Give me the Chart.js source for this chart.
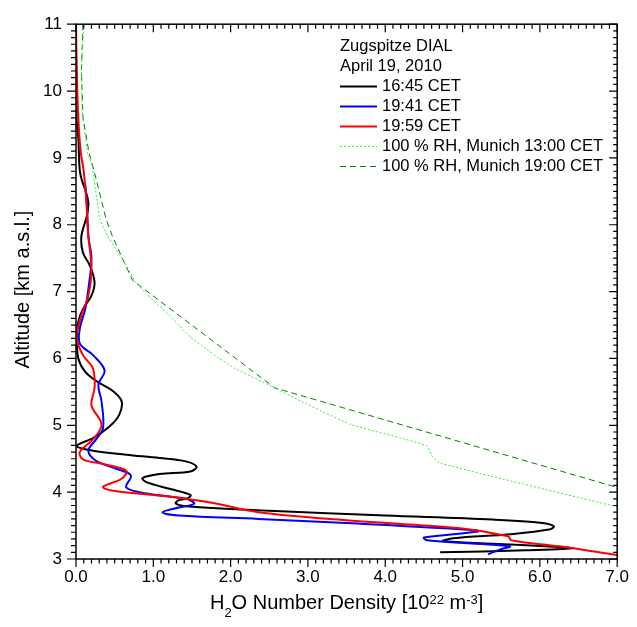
<!DOCTYPE html>
<html>
<head>
<meta charset="utf-8">
<script src="https://cdn.jsdelivr.net/npm/chart.js@4.4.1/dist/chart.umd.min.js"></script>
<style>
  html, body { margin: 0; padding: 0; background: #fff; }
  #wrap { width: 637px; height: 627px; position: relative; }
</style>
</head>
<body>
<div id="wrap"><canvas id="profileChart"></canvas></div>
<script>
const FONT = "'Liberation Sans', Arial, Helvetica, sans-serif";

// DIAL profiles: H2O number density [1e22 m^-3] against altitude [km a.s.l.]
const dens1645 = [0.00, 0.00, 0.01, 0.01, 0.03, 0.04, 0.05, 0.08, 0.12, 0.16, 0.14, 0.07, 0.09, 0.18, 0.24, 0.20, 0.09, 0.03, 0.01, 0.03, 0.12, 0.28, 0.48, 0.59, 0.56, 0.44, 0.22, 0.01, 0.22, 0.65, 1.08, 1.42, 1.56, 1.48, 1.08, 0.86, 0.91, 1.21, 1.48, 1.45, 1.33, 1.29, 1.42, 2.50, 4.00, 5.39, 6.03, 6.18, 6.12, 5.61, 4.88, 4.75, 5.39, 6.25, 6.42, 5.82, 4.71];
const alt1645  = [11.0, 10.5, 10.0, 9.55, 9.30, 9.00, 8.80, 8.65, 8.52, 8.33, 8.13, 7.83, 7.58, 7.39, 7.14, 6.94, 6.74, 6.55, 6.30, 6.00, 5.80, 5.65, 5.51, 5.36, 5.16, 4.99, 4.81, 4.69, 4.62, 4.56, 4.51, 4.46, 4.38, 4.31, 4.27, 4.21, 4.15, 4.05, 3.96, 3.91, 3.88, 3.83, 3.79, 3.72, 3.65, 3.59, 3.54, 3.49, 3.44, 3.37, 3.31, 3.27, 3.23, 3.18, 3.16, 3.13, 3.10];

const dens1941 = [0.12, 0.14, 0.16, 0.20, 0.16, 0.12, 0.05, 0.05, 0.22, 0.37, 0.29, 0.33, 0.35, 0.26, 0.16, 0.26, 0.52, 0.71, 0.65, 0.91, 1.42, 1.53, 1.33, 1.12, 1.33, 2.36, 3.64, 5.18, 5.20, 4.50, 4.54, 5.61, 5.48, 5.33];
const alt1941  = [8.60, 8.33, 7.83, 7.49, 7.04, 6.74, 6.45, 6.22, 6.05, 5.82, 5.61, 5.36, 4.96, 4.79, 4.62, 4.47, 4.35, 4.25, 4.07, 3.98, 3.90, 3.83, 3.77, 3.70, 3.65, 3.60, 3.53, 3.43, 3.41, 3.32, 3.28, 3.19, 3.14, 3.07];

const dens1959 = [0.00, 0.01, 0.03, 0.06, 0.10, 0.13, 0.16, 0.20, 0.16, 0.07, 0.01, 0.09, 0.22, 0.24, 0.20, 0.33, 0.22, 0.05, 0.09, 0.35, 0.65, 0.59, 0.35, 0.48, 1.08, 1.72, 2.36, 3.50, 4.97, 5.59, 5.63, 6.25, 7.00];
const alt1959  = [11.0, 10.3, 9.60, 9.10, 8.80, 8.40, 7.83, 7.34, 6.94, 6.65, 6.30, 6.05, 5.85, 5.56, 5.30, 5.01, 4.79, 4.60, 4.49, 4.42, 4.32, 4.20, 4.08, 4.02, 3.95, 3.85, 3.70, 3.58, 3.46, 3.34, 3.28, 3.19, 3.06];

// Saturation (100 % RH) profiles from the Munich radiosondes
const densRh13 = [0.10, 0.07, 0.08, 0.15, 0.21, 0.31, 0.41, 0.65, 0.76, 0.91, 1.12, 1.33, 1.48, 1.68, 1.85, 2.06, 2.32, 2.57, 2.91, 3.56, 4.20, 4.54, 4.60, 4.72, 7.00];
const altRh13  = [11.0, 10.3, 9.70, 9.07, 8.87, 8.08, 7.83, 7.39, 7.16, 6.97, 6.74, 6.50, 6.32, 6.15, 6.00, 5.85, 5.70, 5.56, 5.36, 5.01, 4.81, 4.69, 4.55, 4.43, 3.78];

const densRh19 = [0.09, 0.07, 0.09, 0.17, 0.22, 0.39, 0.47, 0.73, 2.57, 7.00];
const altRh19  = [11.0, 10.3, 9.60, 9.07, 8.87, 8.08, 7.83, 7.17, 5.56, 4.07];

const legendHeader = ["Zugspitze DIAL", "April 19, 2010"];
const seriesLabels = ["16:45 CET", "19:41 CET", "19:59 CET", "100 % RH, Munich 13:00 CET", "100 % RH, Munich 19:00 CET"];
const seriesColors = ["#000000", "#0000ff", "#ff0000", "#33ee33", "#008000"];
const seriesDash = [[], [], [], [2, 2], [6, 4]];
const seriesWidth = [2, 2, 2, 1, 1];

function toPoints(xs, ys) {
  return xs.map((x, i) => ({ x: x, y: ys[i] }));
}

function lineSet(idx, xs, ys, tension, order) {
  return {
    label: seriesLabels[idx],
    data: toPoints(xs, ys),
    showLine: true,
    borderColor: seriesColors[idx],
    borderWidth: seriesWidth[idx],
    borderDash: seriesDash[idx],
    pointRadius: 0,
    fill: false,
    tension: tension,
    order: order
  };
}

// draw a run of text pieces with sub/superscripts, centered at cx
function drawRich(ctx, parts, cx, base) {
  let total = 0;
  parts.forEach(p => {
    ctx.font = p.size + "px " + FONT;
    p.w = ctx.measureText(p.t).width;
    total += p.w;
  });
  let xPos = cx - total / 2;
  ctx.textAlign = "left";
  ctx.textBaseline = "alphabetic";
  parts.forEach(p => {
    ctx.font = p.size + "px " + FONT;
    ctx.fillText(p.t, xPos, base + p.dy);
    xPos += p.w;
  });
}

const frameTicks = {
  id: "frameTicks",
  afterDraw(chart) {
    const { ctx, chartArea: a, scales } = chart;
    const xs = scales.x, ys = scales.y;
    ctx.save();
    ctx.strokeStyle = "#000";
    ctx.lineWidth = 1.5;
    ctx.strokeRect(a.left, a.top, a.right - a.left, a.bottom - a.top);

    ctx.lineWidth = 1.2;
    ctx.beginPath();
    for (let i = Math.round(xs.min * 10); i <= Math.round(xs.max * 10); i++) {
      const px = xs.getPixelForValue(i / 10);
      const len = i % 10 === 0 ? 8 : 4.5;
      ctx.moveTo(px, a.bottom); ctx.lineTo(px, a.bottom + len);
      ctx.moveTo(px, a.top); ctx.lineTo(px, a.top + len);
    }
    for (let i = Math.round(ys.min * 10); i <= Math.round(ys.max * 10); i++) {
      const py = ys.getPixelForValue(i / 10);
      const len = i % 10 === 0 ? 9 : 5;
      ctx.moveTo(a.left - len, py); ctx.lineTo(a.left, py);
      ctx.moveTo(a.right - len + 1, py); ctx.lineTo(a.right, py);
    }
    ctx.stroke();

    // axis titles
    ctx.fillStyle = "#000";
    drawRich(ctx, [
      { t: "H", size: 20, dy: 0 },
      { t: "2", size: 13, dy: 8 },
      { t: "O Number Density [10", size: 20, dy: 0 },
      { t: "22", size: 13, dy: -5 },
      { t: " m", size: 20, dy: 0 },
      { t: "-3", size: 13, dy: -5 },
      { t: "]", size: 20, dy: 0 }
    ], (a.left + a.right) / 2, 609);

    ctx.save();
    ctx.translate(23, (a.top + a.bottom) / 2 - 2);
    ctx.rotate(-Math.PI / 2);
    ctx.font = "20px " + FONT;
    ctx.textAlign = "center";
    ctx.textBaseline = "middle";
    ctx.fillText("Altitude [km a.s.l.]", 0, 0);
    ctx.restore();

    // legend block
    ctx.font = "16.5px " + FONT;
    ctx.textAlign = "left";
    ctx.textBaseline = "middle";
    ctx.fillText(legendHeader[0], 340, 46);
    ctx.fillText(legendHeader[1], 340, 66);
    seriesLabels.forEach((lab, i) => {
      const yy = 86.5 + i * 20;
      ctx.beginPath();
      ctx.strokeStyle = seriesColors[i];
      ctx.lineWidth = seriesWidth[i];
      ctx.setLineDash(seriesDash[i]);
      ctx.moveTo(340, yy); ctx.lineTo(377, yy);
      ctx.stroke();
      ctx.setLineDash([]);
      ctx.fillText(lab, 382, yy);
    });
    ctx.restore();
  }
};

new Chart(document.getElementById("profileChart"), {
  type: "scatter",
  data: {
    datasets: [
      lineSet(2, dens1959, alt1959, 0.35, 1),
      lineSet(1, dens1941, alt1941, 0.35, 2),
      lineSet(0, dens1645, alt1645, 0.35, 3),
      lineSet(3, densRh13, altRh13, 0.15, 4),
      lineSet(4, densRh19, altRh19, 0, 5)
    ]
  },
  options: {
    responsive: true,
    maintainAspectRatio: false,
    animation: false,
    events: [],
    layout: { padding: { top: 20, right: 15, left: 0, bottom: 0 } },
    plugins: {
      legend: { display: false },
      tooltip: { enabled: false }
    },
    scales: {
      x: {
        type: "linear",
        min: 0,
        max: 7,
        afterFit: s => { s.height = 68; },
        grid: { display: false, drawTicks: false },
        border: { display: false },
        ticks: {
          stepSize: 1,
          padding: 8,
          color: "#000",
          font: { family: FONT, size: 17 },
          callback: v => v.toFixed(1)
        }
      },
      y: {
        type: "linear",
        min: 3,
        max: 11,
        afterFit: s => { s.width = 76; },
        grid: { display: false, drawTicks: false },
        border: { display: false },
        ticks: {
          stepSize: 1,
          padding: 14,
          color: "#000",
          font: { family: FONT, size: 17 }
        }
      }
    }
  },
  plugins: [frameTicks]
});
</script>
</body>
</html>
